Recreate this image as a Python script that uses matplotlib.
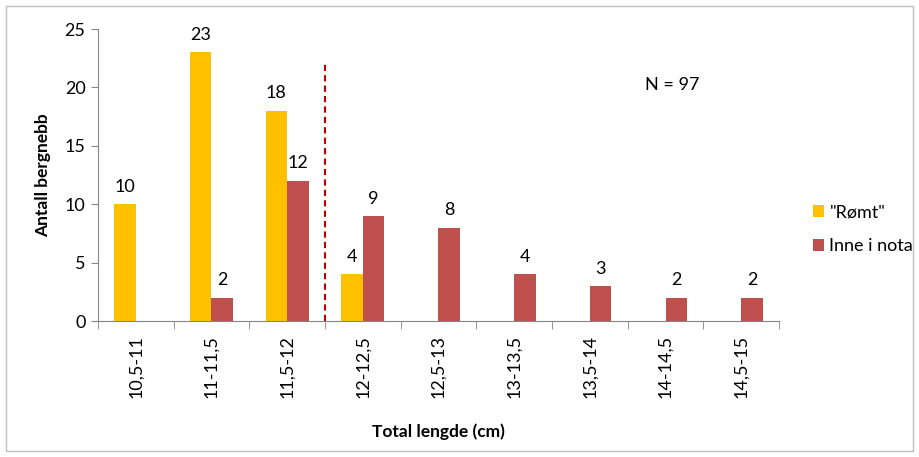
import matplotlib.pyplot as plt
from matplotlib.patches import Rectangle
import numpy as np

plt.rcParams['font.family'] = ['Lato', 'DejaVu Sans']

categories = ['10,5-11', '11-11,5', '11,5-12', '12-12,5', '12,5-13',
              '13-13,5', '13,5-14', '14-14,5', '14,5-15']
romt = [10, 23, 18, 4, 0, 0, 0, 0, 0]
inne = [0, 2, 12, 9, 8, 4, 3, 2, 2]
n_total = 97
cutoff_height = 22.2

YELLOW = '#FFC000'
RED = '#C0504D'
GREY = '#868686'

fig = plt.figure(figsize=(9.19, 4.57), dpi=100)
ax = fig.add_axes([98 / 919, 1 - 321 / 457, 681 / 919, 292 / 457])

x = np.arange(len(categories))
w = 0.285
ax.bar(x - w / 2, romt, w, color=YELLOW, label='"Rømt"')
ax.bar(x + w / 2, inne, w, color=RED, label='Inne i nota')

# value labels, only for non-empty bars
for xi, v in zip(x, romt):
    if v > 0:
        ax.text(xi - w / 2, v + 0.8, str(v), ha='center', va='bottom', fontsize=13)
for xi, v in zip(x, inne):
    if v > 0:
        ax.text(xi + w / 2, v + 0.8, str(v), ha='center', va='bottom', fontsize=13)

# size limit between escaped and retained fish
ax.plot([2.5, 2.5], [0, cutoff_height], color='#C00000', ls=(0, (3, 2)), lw=1.5)

ax.text(7.09, 20.2, 'N = %d' % n_total, ha='center', va='center', fontsize=13)

ax.set_xlim(-0.5, len(categories) - 0.5)
ax.set_ylim(0, 25)
ax.set_yticks(range(0, 26, 5))
ax.set_xticks(x)
ax.set_xticklabels(categories, rotation=90, fontsize=13)
ax.set_xticks(np.arange(-0.5, len(categories), 1), minor=True)
ax.tick_params(axis='x', which='major', length=0, pad=10)
ax.tick_params(axis='x', which='minor', length=6, color=GREY)
ax.tick_params(axis='y', length=5, color=GREY, labelsize=13, pad=4)

for side in ['top', 'right']:
    ax.spines[side].set_visible(False)
for side in ['left', 'bottom']:
    ax.spines[side].set_color(GREY)

ax.set_ylabel('Antall bergnebb', fontsize=12.5, fontweight='bold', labelpad=10)
ax.set_xlabel('Total lengde (cm)', fontsize=12.5, fontweight='bold', labelpad=18)

ax.legend(loc='upper left', bbox_to_anchor=(806 / 919, 1 - 197 / 457),
          bbox_transform=fig.transFigure, frameon=False, fontsize=13,
          handlelength=0.6, handleheight=0.6, handletextpad=0.3,
          labelspacing=1.0, borderaxespad=0)

fig.patches.append(Rectangle((6 / 919, 6 / 457), 907 / 919, 445 / 457,
                             transform=fig.transFigure, fill=False,
                             edgecolor='#BFBFBF', lw=1))

fig.savefig('out.png', dpi=100)
